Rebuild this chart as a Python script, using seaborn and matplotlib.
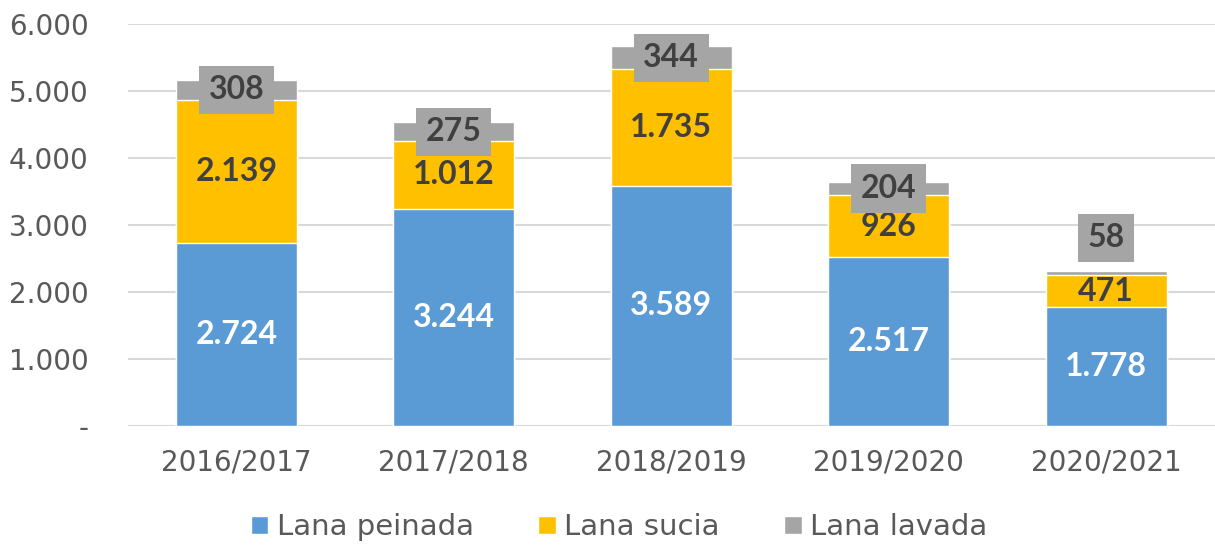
import numpy as np
import pandas as pd
import seaborn as sns
import matplotlib.pyplot as plt

sns.set_style("white")
plt.rcParams['font.family'] = ['DejaVu Sans']

seasons = ['2016/2017', '2017/2018', '2018/2019', '2019/2020', '2020/2021']
peinada = [2724, 3244, 3589, 2517, 1778]
sucia = [2139, 1012, 1735, 926, 471]
lavada = [308, 275, 344, 204, 58]

c_blue = '#5B9BD5'
c_yellow = '#FFC000'
c_gray = '#A5A5A5'
txt = '#404040'


def fmt(v):
    return f'{v:,.0f}'.replace(',', '.')


df = pd.DataFrame({'season': seasons, 'peinada': peinada,
                   'sucia': sucia, 'lavada': lavada})
df['s2'] = df['peinada'] + df['sucia']
df['s3'] = df['s2'] + df['lavada']

fig = plt.figure(figsize=(12.15, 5.46), dpi=100)
ax = fig.add_axes([0.105, 0.22, 0.895, 0.736])

sns.barplot(data=df, x='season', y='s3', color=c_gray, width=0.556,
            saturation=1, ax=ax, label='Lana lavada', zorder=3)
sns.barplot(data=df, x='season', y='s2', color=c_yellow, width=0.556,
            saturation=1, ax=ax, label='Lana sucia', zorder=3)
sns.barplot(data=df, x='season', y='peinada', color=c_blue, width=0.556,
            saturation=1, ax=ax, label='Lana peinada', zorder=3)

ax.set_ylim(0, 6000)
ax.set_xlim(-0.5, 4.5)
ax.set_yticks(np.arange(0, 6001, 1000))
ax.set_yticklabels(['-'] + [fmt(v) for v in range(1000, 6001, 1000)])
ax.yaxis.grid(True, color='#D9D9D9', linewidth=1.5, zorder=0)
ax.set_axisbelow(True)
for s in ax.spines.values():
    s.set_visible(False)
ax.tick_params(axis='y', length=0, pad=28, labelsize=20, labelcolor='#595959')
ax.tick_params(axis='x', length=0, pad=16, labelsize=20, labelcolor='#595959')
ax.set_xlabel('')
ax.set_ylabel('')

lab = dict(family='Lato', fontsize=23, fontweight='bold', ha='center',
           va='center', zorder=5)
for i in range(len(seasons)):
    ax.text(i, peinada[i] / 2, fmt(peinada[i]), color='white', **lab)
    ax.text(i, df['peinada'][i] + sucia[i] / 2, fmt(sucia[i]), color=txt, **lab)
    y = df['s2'][i] + lavada[i] / 2
    if lavada[i] < 100:
        y = df['s3'][i] + 500
    ax.text(i, y, fmt(lavada[i]), color=txt, **lab,
            bbox=dict(boxstyle='square,pad=0.3', fc=c_gray, ec='none'))

h, l = ax.get_legend_handles_labels()
order = [l.index('Lana peinada'), l.index('Lana sucia'), l.index('Lana lavada')]
ax.legend([h[k] for k in order], [l[k] for k in order], loc='center',
          bbox_to_anchor=(0.452, -0.252), ncol=3, frameon=False, fontsize=21,
          handlelength=0.6, handleheight=0.6, handletextpad=0.3,
          columnspacing=2.2, labelcolor='#595959')

fig.savefig('out.png', dpi=100)
